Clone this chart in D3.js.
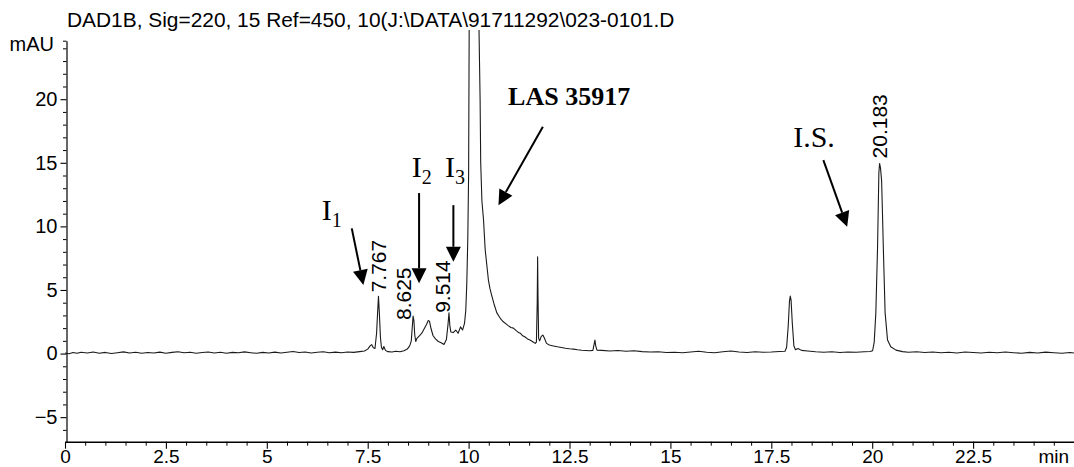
<!DOCTYPE html>
<html>
<head>
<meta charset="utf-8">
<script src="https://cdn.jsdelivr.net/npm/d3@7"></script>
<style>
  html, body { margin: 0; padding: 0; background: #fff; }
  svg { display: block; }
</style>
</head>
<body>
<svg id="chart" width="1074" height="467"></svg>
<script>
// ---- chromatogram data -------------------------------------------------
const title = "DAD1B, Sig=220, 15 Ref=450, 10(J:\\DATA\\91711292\\023-0101.D";
const yUnit = "mAU";
const xUnit = "min";

const xDomain = [0, 25];
const yDomain = [-6.93, 24.6];
const xTickValues = [0, 2.5, 5, 7.5, 10, 12.5, 15, 17.5, 20, 22.5];
const yTickValues = [-5, 0, 5, 10, 15, 20];

// retention time (min)
const retentionTime = [
  0.00, 0.10, 0.20, 0.30, 0.40, 0.55, 0.70, 0.85, 1.00, 1.15, 1.30, 1.45, 1.60, 1.75, 1.90,
  2.05, 2.20, 2.35, 2.50, 2.65, 2.80, 2.95, 3.10, 3.25, 3.40, 3.55, 3.70, 3.85, 4.00, 4.15,
  4.30, 4.45, 4.60, 4.75, 4.90, 5.05, 5.20, 5.35, 5.50, 5.65, 5.80, 5.95, 6.10, 6.25, 6.40,
  6.55, 6.70, 6.85, 7.00, 7.15, 7.30, 7.42, 7.50, 7.56, 7.60, 7.64, 7.68, 7.72, 7.745, 7.767,
  7.79, 7.815, 7.84, 7.87, 7.90, 7.94, 8.00, 8.10, 8.20, 8.30, 8.40, 8.48, 8.54, 8.58, 8.60,
  8.625, 8.645, 8.665, 8.69, 8.72, 8.78, 8.84, 8.90, 8.96, 9.00, 9.03, 9.07, 9.12, 9.18, 9.25,
  9.32, 9.39, 9.45, 9.49, 9.514, 9.535, 9.56, 9.62, 9.68, 9.74, 9.80, 9.85, 9.90, 9.93, 9.955,
  9.98, 10.00, 10.02, 10.06, 10.12, 10.18, 10.23, 10.26, 10.285, 10.30, 10.33, 10.37, 10.41, 10.45, 10.49,
  10.53, 10.57, 10.63, 10.70, 10.76, 10.80, 10.86, 10.92, 10.98, 11.05, 11.11, 11.18, 11.24, 11.28, 11.34,
  11.40, 11.46, 11.52, 11.58, 11.65, 11.68, 11.70, 11.71, 11.72, 11.735, 11.76, 11.80, 11.84, 11.88, 11.93,
  12.00, 12.10, 12.20, 12.30, 12.40, 12.50, 12.60, 12.70, 12.80, 12.90, 13.00, 13.08, 13.11, 13.13, 13.15,
  13.18, 13.30, 13.50, 13.70, 13.90, 14.10, 14.30, 14.50, 14.70, 14.90, 15.10, 15.30, 15.50, 15.70, 15.90,
  16.10, 16.30, 16.50, 16.70, 16.90, 17.10, 17.30, 17.50, 17.70, 17.84, 17.88, 17.92, 17.95, 17.97, 17.99,
  18.02, 18.06, 18.10, 18.16, 18.25, 18.40, 18.60, 18.80, 19.00, 19.20, 19.40, 19.60, 19.80, 19.95, 20.01,
  20.05, 20.09, 20.133, 20.165, 20.183, 20.205, 20.233, 20.255, 20.275, 20.32, 20.38, 20.46, 20.59, 20.75, 20.90,
  21.10, 21.30, 21.50, 21.70, 21.90, 22.10, 22.30, 22.50, 22.70, 22.90, 23.10, 23.30, 23.50, 23.70, 23.90,
  24.10, 24.30, 24.50, 24.70, 24.90, 25.00
];

// detector response (mAU)
const absorbance = [
  0.05, -0.02, 0.08, 0.02, 0.10, 0.04, 0.12, 0.03, 0.09, 0.01, 0.07, 0.13, 0.05, 0.10, 0.02,
  0.08, 0.04, 0.11, 0.03, 0.09, 0.14, 0.06, 0.10, 0.02, 0.08, 0.12, 0.05, 0.10, 0.03, 0.09,
  0.06, 0.13, 0.07, 0.02, 0.09, 0.05, 0.11, 0.04, 0.10, 0.16, 0.08, 0.12, 0.05, 0.10, 0.14,
  0.07, 0.11, 0.06, 0.12, 0.09, 0.15, 0.20, 0.35, 0.60, 0.70, 0.45, 0.40, 1.60, 3.20, 4.50,
  3.10, 1.30, 0.50, 0.30, 0.55, 0.25, 0.15, 0.12, 0.18, 0.14, 0.22, 0.35, 0.60, 1.00, 1.90,
  2.95, 2.60, 1.50, 0.95, 1.20, 1.40, 1.60, 1.95, 2.30, 2.60, 2.55, 1.95, 1.40, 1.15, 0.95,
  0.85, 0.72, 1.10, 2.30, 3.20, 2.20, 1.70, 1.65, 1.85, 1.60, 2.10, 1.85, 2.40, 3.40, 5.50,
  9.00, 14.00, 30.00, 60.00, 80.00, 60.00, 35.00, 25.00, 20.00, 15.00, 12.00, 10.50, 8.20, 7.00, 5.80,
  5.10, 4.60, 3.90, 3.20, 2.90, 2.70, 2.50, 2.35, 2.20, 2.05, 2.00, 1.80, 1.65, 1.60, 1.40,
  1.30, 1.15, 1.06, 0.95, 0.80, 0.90, 4.00, 7.60, 4.50, 1.20, 1.00, 1.35, 1.45, 1.20, 0.80,
  0.67, 0.60, 0.53, 0.48, 0.42, 0.38, 0.35, 0.30, 0.26, 0.24, 0.22, 0.25, 0.75, 1.06, 0.60,
  0.27, 0.25, 0.20, 0.24, 0.18, 0.22, 0.15, 0.12, 0.14, 0.08, 0.10, 0.06, 0.12, 0.18, 0.10,
  0.06, 0.14, 0.20, 0.12, 0.08, 0.14, 0.10, 0.12, 0.16, 0.18, 0.50, 2.20, 4.10, 4.52, 4.20,
  2.40, 0.60, 0.30, 0.40, 0.25, 0.20, 0.14, 0.10, 0.14, 0.08, 0.12, 0.10, 0.14, 0.16, 0.22,
  0.90, 3.20, 8.40, 14.20, 14.95, 14.60, 13.60, 11.00, 8.40, 3.20, 1.06, 0.53, 0.27, 0.15, 0.10,
  0.14, 0.08, 0.12, 0.06, 0.10, 0.05, 0.12, 0.08, 0.04, 0.10, 0.06, 0.12, 0.07, 0.03, 0.09,
  0.05, 0.11, 0.06, 0.02, 0.08, 0.05
];

// integrated peaks
const peakTimes  = [7.767, 8.625, 9.514, 20.183];
const peakLabels = ["7.767", "8.625", "9.514", "20.183"];

// compound annotations (text anchored in data units)
const compoundNames = ["I", "I", "I", "LAS 35917", "I.S."];
const compoundSubs  = ["1", "2", "3", "", ""];
const compoundTime  = [6.362, 8.592, 9.418, 10.979, 18.042];
const compoundLevel = [10.50, 13.90, 13.90, 19.54, 16.23];

// pointer arrows: [time, level] of tail and head
const arrowTail = [[7.105, 9.84], [8.773, 12.62], [9.623, 11.67], [11.84, 17.83], [18.79, 15.21]];
const arrowHead = [[7.393, 5.39], [8.773, 5.52], [9.623, 7.22], [10.74, 11.67], [19.38, 9.97]];

// ---- layout --------------------------------------------------------------
const W = 1074, H = 467;
const plot = { left: 65, right: 1074, top: 40.7, bottom: 441.7 };
const axisFont = "Liberation Sans, Arial, sans-serif";
const serifFont = "Liberation Serif, Times New Roman, serif";

const svg = d3.select("#chart");

const x = d3.scaleLinear().domain(xDomain).range([plot.left, plot.right]);
const y = d3.scaleLinear().domain(yDomain).range([plot.bottom, plot.top]);

// clip so the off-scale main peak stops just under the title line
svg.append("defs").append("clipPath").attr("id", "trace-clip")
  .append("rect")
  .attr("x", plot.left).attr("y", 30)
  .attr("width", plot.right - plot.left).attr("height", plot.bottom - 30);

// ---- axes ----------------------------------------------------------------
const yAxisX = plot.left + 1.5;

// y minor ticks, including the range end at the top
const yMinor = d3.range(-6, 25, 1).filter(v => !yTickValues.includes(v)).concat([yDomain[1]]);
svg.append("g")
  .attr("transform", `translate(${yAxisX},0)`)
  .call(d3.axisLeft(y).tickValues(yMinor).tickSize(3.5).tickFormat(""))
  .call(g => g.select(".domain").remove())
  .call(g => g.selectAll("line").attr("stroke", "#000").attr("stroke-width", 1));

svg.append("g")
  .attr("transform", `translate(${yAxisX},0)`)
  .call(d3.axisLeft(y).tickValues(yTickValues).tickSize(6).tickSizeOuter(0).tickPadding(3))
  .call(g => g.select(".domain").attr("stroke", "#000").attr("stroke-width", 1.2))
  .call(g => g.selectAll("line").attr("stroke", "#000").attr("stroke-width", 1.1))
  .call(g => g.selectAll("text")
    .attr("font-family", axisFont).attr("font-size", 20).attr("fill", "#000"));

// x minor ticks every 0.5 min
const xMinor = d3.range(0.5, 25, 0.5).filter(v => !xTickValues.includes(v) && v !== 25);
svg.append("g")
  .attr("transform", `translate(0,${plot.bottom})`)
  .call(d3.axisBottom(x).tickValues(xMinor).tickSize(4).tickFormat(""))
  .call(g => g.select(".domain").remove())
  .call(g => g.selectAll("line").attr("stroke", "#000").attr("stroke-width", 1));

svg.append("g")
  .attr("transform", `translate(0,${plot.bottom})`)
  .call(d3.axisBottom(x).tickValues(xTickValues).tickSize(7).tickSizeOuter(0).tickPadding(1)
    .tickFormat(d3.format("~g")))
  .call(g => g.select(".domain").attr("stroke", "#000").attr("stroke-width", 1.4))
  .call(g => g.selectAll("line").attr("stroke", "#000").attr("stroke-width", 1.1))
  .call(g => g.selectAll("text")
    .attr("font-family", axisFont).attr("font-size", 19).attr("fill", "#000"));

// unit labels
svg.append("text")
  .attr("x", W - 5).attr("y", plot.bottom + 8).attr("dy", "0.71em")
  .attr("text-anchor", "end")
  .attr("font-family", axisFont).attr("font-size", 19)
  .text(xUnit);

svg.append("text")
  .attr("x", 54).attr("y", 51)
  .attr("text-anchor", "end")
  .attr("font-family", axisFont).attr("font-size", 20)
  .text(yUnit);

// title
svg.append("text")
  .attr("x", 67).attr("y", 27)
  .attr("font-family", axisFont).attr("font-size", 20.9)
  .text(title);

// ---- trace -----------------------------------------------------------------
const points = retentionTime.map((t, i) => [t, absorbance[i]]);
const line = d3.line().x(d => x(d[0])).y(d => y(d[1]));

svg.append("path")
  .datum(points)
  .attr("clip-path", "url(#trace-clip)")
  .attr("fill", "none")
  .attr("stroke", "#1a1a1a")
  .attr("stroke-width", 1.1)
  .attr("stroke-linejoin", "round")
  .attr("d", line);

// ---- peak retention-time labels -------------------------------------------
const apexValue = t => absorbance[retentionTime.indexOf(t)];
const labelShift = [[0, 4], [-10, -4], [-7, 0], [0, 5]]; // px nudges to keep labels apart

peakTimes.forEach((t, i) => {
  const px = x(t) + labelShift[i][0];
  const py = y(apexValue(t)) - labelShift[i][1];
  svg.append("text")
    .attr("transform", `translate(${px},${py}) rotate(-90)`)
    .attr("dy", "0.36em")
    .attr("font-family", axisFont).attr("font-size", 21)
    .text(peakLabels[i]);
});

// ---- compound annotations -------------------------------------------------
compoundNames.forEach((name, i) => {
  const txt = svg.append("text")
    .attr("x", x(compoundTime[i])).attr("y", y(compoundLevel[i]))
    .attr("font-family", serifFont).attr("fill", "#000");
  if (name === "LAS 35917") {
    txt.attr("font-size", 26).attr("font-weight", "bold").text(name);
  } else {
    txt.append("tspan").attr("font-size", 30).text(name);
    if (compoundSubs[i]) {
      txt.append("tspan").attr("font-size", 20).attr("dy", 7).text(compoundSubs[i]);
    }
  }
});

// arrows
const headLen = 15, headHalf = 7.5;
arrowTail.forEach((tail, i) => {
  const x0 = x(tail[0]), y0 = y(tail[1]);
  const x1 = x(arrowHead[i][0]), y1 = y(arrowHead[i][1]);
  const ang = Math.atan2(y1 - y0, x1 - x0);
  const bx = x1 - headLen * Math.cos(ang), by = y1 - headLen * Math.sin(ang);
  svg.append("line")
    .attr("x1", x0).attr("y1", y0).attr("x2", bx).attr("y2", by)
    .attr("stroke", "#000").attr("stroke-width", 2);
  const nx = -Math.sin(ang) * headHalf, ny = Math.cos(ang) * headHalf;
  svg.append("path")
    .attr("d", `M${x1},${y1}L${bx + nx},${by + ny}L${bx - nx},${by - ny}Z`)
    .attr("fill", "#000");
});
</script>
</body>
</html>
